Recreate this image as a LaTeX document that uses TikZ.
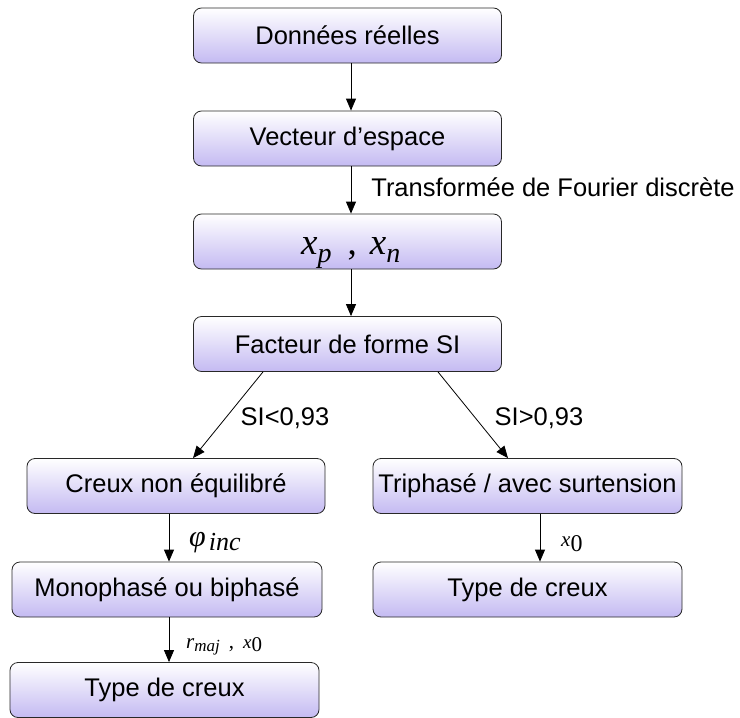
\documentclass[tikz,border=0pt]{standalone}
\usepackage{fontspec}
\setmainfont{Liberation Sans}
\newfontfamily\tms{Liberation Serif}
\usetikzlibrary{arrows.meta}
\definecolor{lav}{RGB}{196,186,242}
\definecolor{edge}{RGB}{40,40,40}
\tikzset{
  box/.style={draw=edge, line width=0.8pt, rounded corners=8pt, top color=white, bottom color=lav,
    minimum height=55pt, inner sep=0pt, font=\fontsize{25.5}{30}\selectfont},
  arr/.style={line width=0.8pt, -{Triangle[length=12pt,width=10pt]}},
  lbl/.style={inner sep=0pt, font=\fontsize{25.5}{30}\selectfont},
  mlbl/.style={inner sep=0pt, font=\tms\itshape},
}
\newcommand{\fs}[1]{\fontsize{#1}{#1}\selectfont}
\begin{document}
\begin{tikzpicture}[x=1pt,y=-1pt]
\useasboundingbox (0,0) rectangle (740,718);
\node[box, minimum width=308pt] (b1) at (347.5,35.5) {Données réelles};
\node[box, minimum width=308pt] (b2) at (347.5,138.5) {Vecteur d’espace};
\node[box, minimum width=308pt] (b3) at (347.5,241.5) {};
\node[mlbl, anchor=base west] (xpxn) at (301,254) {\fs{37}x\raisebox{-8pt}{\fs{28}p}\hspace{16pt}\upshape,\hspace{13pt}\itshape x\raisebox{-8pt}{\fs{28}n}};
\node[box, minimum width=308pt] (b4) at (347.5,344) {Facteur de forme SI};
\node[box, minimum width=298pt] (c1) at (176,486) {Creux non équilibré};
\node[box, minimum width=310pt] (c2) at (167,589.5) {Monophasé ou biphasé};
\node[box, minimum width=309pt] (c3) at (164.5,690) {Type de creux};
\node[box, minimum width=309pt] (d1) at (527.5,486) {Triphasé / avec surtension};
\node[box, minimum width=309pt] (d2) at (527.5,589.5) {Type de creux};

\coordinate (mx) at (351,0);
\coordinate (lx) at (169,0);
\coordinate (rx) at (540,0);
\draw[arr] (b1.south -| mx) -- (b2.north -| mx);
\draw[arr] (b2.south -| mx) -- (b3.north -| mx);
\draw[arr] (b3.south -| mx) -- (b4.north -| mx);
\draw[arr] ([xshift=-84.5pt]b4.south) -- ([xshift=17pt]c1.north);
\draw[arr] ([xshift=90.5pt]b4.south) -- ([xshift=-19.5pt]d1.north);
\draw[arr] (c1.south -| lx) -- (c2.north -| lx);
\draw[arr] (c2.south -| lx) -- (c3.north -| lx);
\draw[arr] (d1.south -| rx) -- (d2.north -| rx);

\node[lbl] (tf) at (553,187) {Transformée de Fourier discrète};
\node[lbl] (s1) at (285,418) {SI<0,93};
\node[lbl] (s2) at (539,418) {SI>0,93};
\node[mlbl, anchor=base west] (phi) at (189,546) {\fs{30}φ\hspace{3pt}\raisebox{-4pt}{\fs{26}inc}};
\node[mlbl, anchor=base west] (rmaj) at (186,648) {\fs{21}r\raisebox{-3pt}{\fs{17}maj}\hspace{9pt}\upshape,\hspace{9pt}\itshape\fs{19}x\raisebox{-3pt}{\upshape\fs{21}0}};
\node[mlbl, anchor=base west] (x0) at (561,546) {\fs{21}x\raisebox{-5pt}{\upshape\fs{24}0}};
\end{tikzpicture}
\end{document}
